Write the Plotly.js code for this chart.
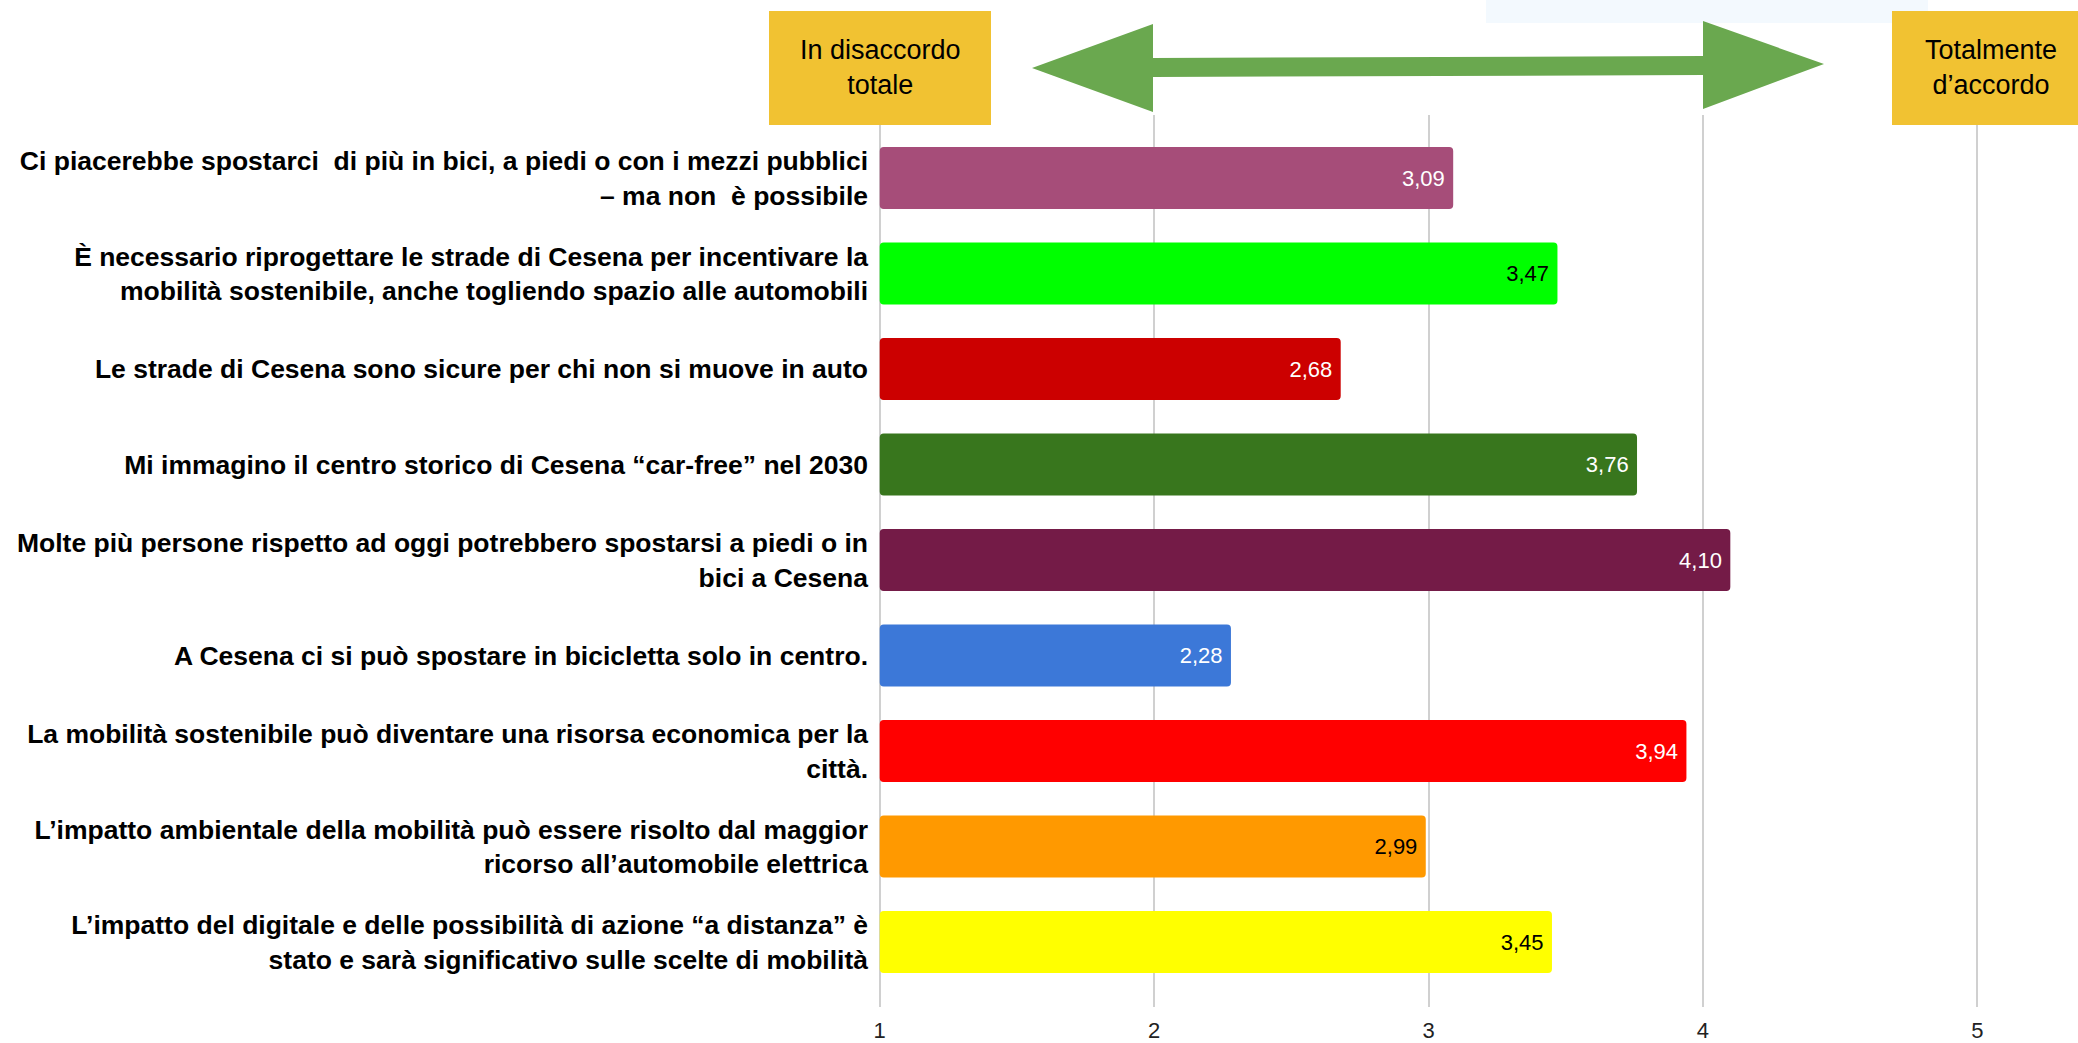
<!DOCTYPE html>
<html>
<head>
<meta charset="utf-8">
<script src="https://cdn.plot.ly/plotly-3.0.1.min.js"></script>
<style>
  html, body { margin: 0; padding: 0; background: #ffffff; }
  #chart { width: 2078px; height: 1043px; }
</style>
</head>
<body>
<div id="chart"></div>
<script>
// ---- data ----
const categories = [
  "Ci piacerebbe spostarci  di più in bici, a piedi o con i mezzi pubblici<br>– ma non  è possibile",
  "È necessario riprogettare le strade di Cesena per incentivare la<br>mobilità sostenibile, anche togliendo spazio alle automobili",
  "Le strade di Cesena sono sicure per chi non si muove in auto",
  "Mi immagino il centro storico di Cesena “car-free” nel 2030",
  "Molte più persone rispetto ad oggi potrebbero spostarsi a piedi o in<br>bici a Cesena",
  "A Cesena ci si può spostare in bicicletta solo in centro.",
  "La mobilità sostenibile può diventare una risorsa economica per la<br>città.",
  "L’impatto ambientale della mobilità può essere risolto dal maggior<br>ricorso all’automobile elettrica",
  "L’impatto del digitale e delle possibilità di azione “a distanza” è<br>stato e sarà significativo sulle scelte di mobilità"
];
const values = [3.09, 3.47, 2.68, 3.76, 4.10, 2.28, 3.94, 2.99, 3.45];
const barColors = ["#A64D79", "#00FF00", "#CC0000", "#38761D", "#741B47", "#3C78D8", "#FF0000", "#FF9900", "#FFFF00"];
const labelColors = ["#FFFFFF", "#000000", "#FFFFFF", "#FFFFFF", "#FFFFFF", "#FFFFFF", "#FFFFFF", "#000000", "#000000"];
const xTicks = [1, 2, 3, 4, 5];
const xTickLabels = ["1", "2", "3", "4", "5"];
const scaleStart = 1;
const leftBoxText = "In disaccordo<br>totale";
const rightBoxText = "Totalmente<br>d’accordo";

// ---- layout geometry (pixels) ----
const W = 2078, H = 1043;
const ML = 877, MR = 98, MT = 115, MB = 36;
const PW = W - ML - MR, PH = H - MT - MB;
const px = x => (x - ML) / PW;
const py = y => 1 - (y - MT) / PH;

const arial = "Liberation Sans, Arial, sans-serif";

const trace = {
  type: "bar",
  orientation: "h",
  y: categories,
  x: values.map(v => v - scaleStart),
  base: scaleStart,
  text: values.map(v => v.toFixed(2).replace(".", ",") + "\u2009"),
  textposition: "inside",
  insidetextanchor: "end",
  constraintext: "none",
  textangle: 0,
  textfont: { family: arial, size: 22, color: labelColors },
  marker: { color: barColors, cornerradius: 4, line: { width: 0 } },
  hovertemplate: "%{y}: %{text}<extra></extra>"
};

const arrowPts = [[1032,68],[1153,24],[1153,58],[1703,56],[1703,21],[1824,64],[1703,109],[1703,75],[1153,77],[1153,112]];
const arrowPath = "M " + arrowPts.map(p => px(p[0]).toFixed(5) + "," + py(p[1]).toFixed(5)).join(" L ") + " Z";

const layout = {
  width: W, height: H,
  margin: { l: ML, r: MR, t: MT, b: MB, pad: 0 },
  paper_bgcolor: "#FFFFFF",
  plot_bgcolor: "#FFFFFF",
  showlegend: false,
  bargap: 0.35,
  xaxis: {
    range: [0.99, 5.01],
    tickvals: xTicks,
    ticktext: xTickLabels,
    showgrid: true,
    gridcolor: "#D0D0D0",
    gridwidth: 1.5,
    zeroline: false,
    showline: false,
    ticks: "",
    ticklabelstandoff: 8,
    tickfont: { family: arial, size: 22, color: "#222222" },
    fixedrange: true
  },
  yaxis: {
    type: "category",
    categoryorder: "array",
    categoryarray: categories,
    range: [8.68, -0.66],
    showgrid: false,
    zeroline: false,
    showline: false,
    ticks: "",
    ticklabelstandoff: 8,
    tickfont: { family: arial, size: 26.5, color: "#000000", weight: "bold" },
    automargin: false,
    fixedrange: true
  },
  shapes: [
    { type: "rect", xref: "paper", yref: "paper", x0: px(1486), x1: px(1928), y0: py(0), y1: py(23),
      fillcolor: "#F3F9FE", line: { width: 0 }, layer: "below" },
    { type: "rect", xref: "paper", yref: "paper", x0: px(769), x1: px(991), y0: py(11), y1: py(125),
      fillcolor: "#F1C232", line: { width: 0 } },
    { type: "rect", xref: "paper", yref: "paper", x0: px(1892), x1: px(2090), y0: py(11), y1: py(125),
      fillcolor: "#F1C232", line: { width: 0 } },
    { type: "path", xref: "paper", yref: "paper", path: arrowPath,
      fillcolor: "#6AA84F", line: { width: 0 } }
  ],
  annotations: [
    { xref: "paper", yref: "paper", x: px(880), y: py(67), text: leftBoxText, showarrow: false,
      xanchor: "center", yanchor: "middle", align: "center",
      font: { family: arial, size: 27, color: "#000000" } },
    { xref: "paper", yref: "paper", x: px(1991), y: py(67), text: rightBoxText, showarrow: false,
      xanchor: "center", yanchor: "middle", align: "center",
      font: { family: arial, size: 27, color: "#000000" } }
  ]
};

Plotly.newPlot("chart", [trace], layout, { displayModeBar: false, staticPlot: false, responsive: false });
</script>
</body>
</html>
